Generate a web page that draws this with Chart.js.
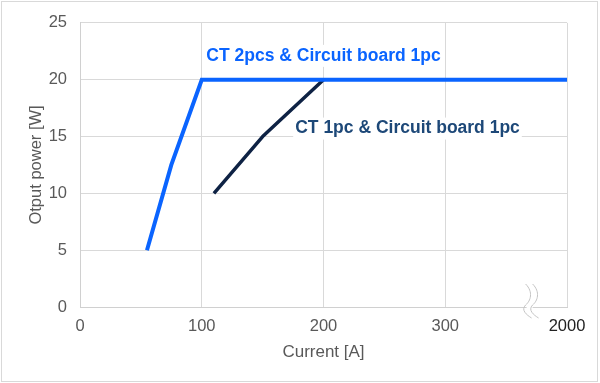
<!DOCTYPE html>
<html>
<head>
<meta charset="utf-8">
<script src="https://cdn.jsdelivr.net/npm/chart.js@4/dist/chart.umd.min.js"></script>
<style>
  html, body { margin: 0; padding: 0; background: #fff; }
  #wrap { width: 600px; height: 383px; position: relative; }
</style>
</head>
<body>
<div id="wrap"><canvas id="c"></canvas></div>
<script>
// ─── Data ────────────────────────────────────────
const twoCtCurrent = [55, 75, 100, 400];
const twoCtPower   = [5, 12.5, 20, 20];
const oneCtCurrent = [110, 150, 200];
const oneCtPower   = [10, 15, 20];
const xTickLabels  = { 0: '0', 100: '100', 200: '200', 300: '300', 400: '2000' };

const FONT = "'Liberation Sans', Arial, sans-serif";
const BLUE = '#0a64ff';
const NAVY = '#0e2244';

// labels with white background, placed in data coords
const seriesLabels = {
  id: 'seriesLabels',
  afterDatasetsDraw(chart) {
    const { ctx, scales: { x, y } } = chart;
    const items = [
      { text: 'CT 2pcs & Circuit board 1pc', xv: 200, yv: 22.1, color: BLUE },
      { text: 'CT 1pc & Circuit board 1pc', xv: 269, yv: 15.7, color: '#1d4878' },
    ];
    ctx.save();
    ctx.font = 'bold 17.5px ' + FONT;
    ctx.textBaseline = 'middle';
    ctx.textAlign = 'center';
    items.forEach(it => {
      const px = x.getPixelForValue(it.xv), py = y.getPixelForValue(it.yv);
      const w = ctx.measureText(it.text).width;
      ctx.fillStyle = '#fff';
      ctx.fillRect(px - w / 2 - 2, py - 11, w + 4, 22);
      ctx.fillStyle = it.color;
      ctx.fillText(it.text, px, py);
    });
    ctx.restore();
  }
};

// axis break mark + outer frame
const extras = {
  id: 'extras',
  afterDraw(chart) {
    const { ctx, scales: { x, y } } = chart;
    ctx.save();
    ctx.strokeStyle = '#d9d9d9';
    ctx.lineWidth = 1;
    ctx.strokeRect(1.5, 1.5, 596, 380);
    const bx = x.getPixelForValue(366), by = y.getPixelForValue(0);
    const wave = off => {
      ctx.moveTo(bx + off, by - 23);
      ctx.bezierCurveTo(bx + off + 8, by - 15, bx + off + 5, by - 6, bx + off, by - 2);
      ctx.bezierCurveTo(bx + off - 5, by + 3, bx + off + 1, by + 8, bx + off + 6, by + 11);
    };
    // white gap between the two waves
    ctx.fillStyle = '#fff';
    ctx.fillRect(bx + 1, by - 3, 6, 6);
    ctx.strokeStyle = '#c4c4c4';
    [0, 7].forEach(off => { ctx.beginPath(); wave(off); ctx.stroke(); });
    ctx.restore();
  }
};

new Chart(document.getElementById('c'), {
  type: 'line',
  data: {
    datasets: [
      {
        data: twoCtCurrent.map((v, i) => ({ x: v, y: twoCtPower[i] })),
        borderColor: BLUE, borderWidth: 4, pointRadius: 0, tension: 0,
        borderCapStyle: 'butt', borderJoinStyle: 'miter',
      },
      {
        data: oneCtCurrent.map((v, i) => ({ x: v, y: oneCtPower[i] })),
        borderColor: NAVY, borderWidth: 3.5, pointRadius: 0, tension: 0,
        borderJoinStyle: 'round',
      },
    ],
  },
  options: {
    responsive: true, maintainAspectRatio: false, animation: false,
    layout: { padding: { top: 20, right: 33, left: 27, bottom: 20 } },
    plugins: { legend: { display: false }, tooltip: { enabled: false } },
    scales: {
      x: {
        type: 'linear', min: 0, max: 400,
        afterFit: s => { s.height = 56; },
        grid: { color: '#d9d9d9', drawTicks: false },
        border: { color: '#d0d0d0' },
        ticks: {
          stepSize: 100, padding: 10,
          font: { family: FONT, size: 16.5 },
          color: c => (c.tick.value === 400 ? '#222' : '#595959'),
          callback: v => xTickLabels[v],
        },
        title: {
          display: true, text: 'Current [A]', color: '#595959',
          font: { family: FONT, size: 17 }, padding: 0,
        },
      },
      y: {
        min: 0, max: 25,
        afterFit: s => { s.width = 53; },
        grid: { color: '#d9d9d9', drawTicks: false },
        border: { color: '#d0d0d0' },
        ticks: {
          stepSize: 5, padding: 13,
          font: { family: FONT, size: 16.5 }, color: '#595959',
        },
        title: {
          display: true, text: 'Otput power [W]', color: '#595959',
          font: { family: FONT, size: 16.5 }, padding: 0,
        },
      },
    },
  },
  plugins: [seriesLabels, extras],
});
</script>
</body>
</html>
